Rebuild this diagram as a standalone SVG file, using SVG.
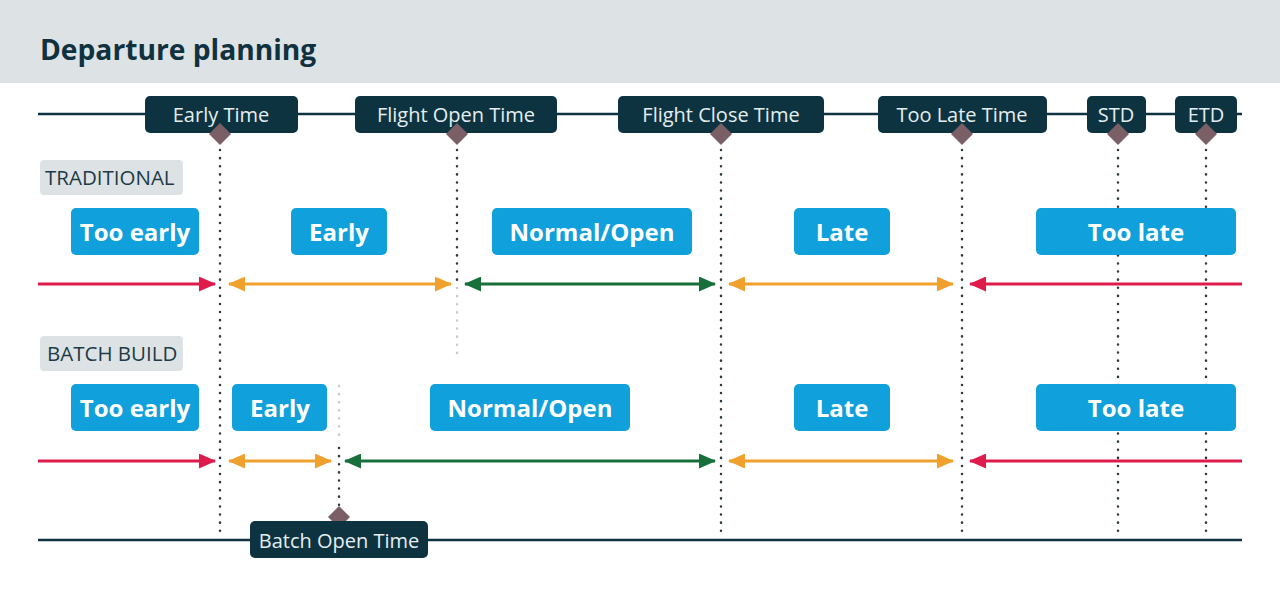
<svg xmlns="http://www.w3.org/2000/svg" width="1280" height="597" viewBox="0 0 1280 597">
<defs>
<style>
.title{font-family:"Open Sans","Liberation Sans",sans-serif;font-weight:700;font-size:28.2px;fill:#0f3140}
.tbox{fill:#0e3340}
.ttxt{font-family:"Open Sans","Liberation Sans",sans-serif;font-size:20px;fill:#e4eef0;text-anchor:middle}
.dia{fill:#7a5f66}
.tag{fill:#dde3e4}
.tagtxt{font-family:"Open Sans","Liberation Sans",sans-serif;font-size:20.5px;fill:#1d3a46}
.bbox{fill:#10a0dc}
.btxt{font-family:"Open Sans","Liberation Sans",sans-serif;font-weight:700;font-size:24px;fill:#ffffff;text-anchor:middle}
.axis{stroke:#0e3340;stroke-width:2.5;fill:none}
.dot{stroke:#2a3a44;stroke-width:2.5;stroke-dasharray:0.1 8;stroke-linecap:round;fill:none}
.dotl{stroke:#c4cbcf;stroke-width:2.5;stroke-dasharray:0.1 8;stroke-linecap:round;fill:none}
.red{stroke:#df1b4c;stroke-width:3;fill:none}
.org{stroke:#f0a02c;stroke-width:3;fill:none}
.grn{stroke:#17703a;stroke-width:3;fill:none}
</style>
<marker id="mr" viewBox="0 0 17 15" refX="16" refY="7.5" markerWidth="17" markerHeight="15" orient="auto-start-reverse" markerUnits="userSpaceOnUse"><path d="M0,0 L17,7.5 L0,15 z" fill="#df1b4c"/></marker>
<marker id="mo" viewBox="0 0 17 15" refX="16" refY="7.5" markerWidth="17" markerHeight="15" orient="auto-start-reverse" markerUnits="userSpaceOnUse"><path d="M0,0 L17,7.5 L0,15 z" fill="#f0a02c"/></marker>
<marker id="mg" viewBox="0 0 17 15" refX="16" refY="7.5" markerWidth="17" markerHeight="15" orient="auto-start-reverse" markerUnits="userSpaceOnUse"><path d="M0,0 L17,7.5 L0,15 z" fill="#17703a"/></marker>
</defs>
<rect x="0" y="0" width="1280" height="597" fill="#ffffff"/>
<rect x="0" y="0" width="1280" height="83" fill="#dde3e4"/>
<text class="title" x="40" y="60">Departure planning</text>

<g id="connectors">
<line class="axis" x1="38" y1="114" x2="1242" y2="114"/>
<line class="axis" x1="38" y1="540" x2="1242" y2="540"/>
<line class="dot" x1="220" y1="150" x2="220" y2="538"/>
<line class="dot" x1="457" y1="150" x2="457" y2="280"/>
<line class="dotl" x1="457" y1="288" x2="457" y2="356"/>
<line class="dot" x1="721" y1="150" x2="721" y2="538"/>
<line class="dot" x1="962" y1="150" x2="962" y2="538"/>
<line class="dot" x1="1118" y1="150" x2="1118" y2="538"/>
<line class="dot" x1="1206" y1="150" x2="1206" y2="538"/>
<line class="dotl" x1="339" y1="386" x2="339" y2="440"/>
<line class="dot" x1="339" y1="448" x2="339" y2="506"/>
<line class="red" x1="38" y1="284" x2="215" y2="284" marker-end="url(#mr)"/>
<line class="org" x1="229" y1="284" x2="451" y2="284" marker-start="url(#mo)" marker-end="url(#mo)"/>
<line class="grn" x1="465" y1="284" x2="715" y2="284" marker-start="url(#mg)" marker-end="url(#mg)"/>
<line class="org" x1="729" y1="284" x2="953" y2="284" marker-start="url(#mo)" marker-end="url(#mo)"/>
<line class="red" x1="1242" y1="284" x2="970" y2="284" marker-end="url(#mr)"/>
<line class="red" x1="38" y1="461" x2="215" y2="461" marker-end="url(#mr)"/>
<line class="org" x1="229" y1="461" x2="331" y2="461" marker-start="url(#mo)" marker-end="url(#mo)"/>
<line class="grn" x1="345" y1="461" x2="715" y2="461" marker-start="url(#mg)" marker-end="url(#mg)"/>
<line class="org" x1="729" y1="461" x2="953" y2="461" marker-start="url(#mo)" marker-end="url(#mo)"/>
<line class="red" x1="1242" y1="461" x2="970" y2="461" marker-end="url(#mr)"/>
</g>

<g id="early-time"><rect class="tbox" x="145" y="96" width="153" height="37" rx="5"/><text class="ttxt" x="221" y="122">Early Time</text><path class="dia" d="M220,123 l11,11 l-11,11 l-11,-11 z"/></g>
<g id="flight-open-time"><rect class="tbox" x="355" y="96" width="202" height="37" rx="5"/><text class="ttxt" x="456" y="122">Flight Open Time</text><path class="dia" d="M457,123 l11,11 l-11,11 l-11,-11 z"/></g>
<g id="flight-close-time"><rect class="tbox" x="618" y="96" width="206" height="37" rx="5"/><text class="ttxt" x="721" y="122">Flight Close Time</text><path class="dia" d="M721,123 l11,11 l-11,11 l-11,-11 z"/></g>
<g id="too-late-time"><rect class="tbox" x="878" y="96" width="169" height="37" rx="5"/><text class="ttxt" x="962" y="122">Too Late Time</text><path class="dia" d="M962,123 l11,11 l-11,11 l-11,-11 z"/></g>
<g id="std"><rect class="tbox" x="1087" y="96" width="59" height="37" rx="5"/><text class="ttxt" x="1116" y="122">STD</text><path class="dia" d="M1118,123 l11,11 l-11,11 l-11,-11 z"/></g>
<g id="etd"><rect class="tbox" x="1175" y="96" width="62" height="37" rx="5"/><text class="ttxt" x="1206" y="122">ETD</text><path class="dia" d="M1206,123 l11,11 l-11,11 l-11,-11 z"/></g>
<g id="batch-open-time"><path class="dia" d="M339,506 l11,11 l-11,11 l-11,-11 z"/><rect class="tbox" x="250" y="521" width="178" height="37" rx="5"/><text class="ttxt" x="339" y="548">Batch Open Time</text></g>

<g id="traditional"><rect class="tag" x="40" y="160" width="143" height="35" rx="4"/><text class="tagtxt" x="45" y="185">TRADITIONAL</text></g>
<g id="batch-build"><rect class="tag" x="40" y="336" width="143" height="35" rx="4"/><text class="tagtxt" x="47" y="361">BATCH BUILD</text></g>

<g id="t-too-early"><rect class="bbox" x="71" y="208" width="128" height="47" rx="5"/><text class="btxt" x="135" y="241">Too early</text></g>
<g id="t-early"><rect class="bbox" x="291" y="208" width="96" height="47" rx="5"/><text class="btxt" x="339" y="241">Early</text></g>
<g id="t-normal"><rect class="bbox" x="492" y="208" width="200" height="47" rx="5"/><text class="btxt" x="592" y="241">Normal/Open</text></g>
<g id="t-late"><rect class="bbox" x="794" y="208" width="96" height="47" rx="5"/><text class="btxt" x="842" y="241">Late</text></g>
<g id="t-too-late"><rect class="bbox" x="1036" y="208" width="200" height="47" rx="5"/><text class="btxt" x="1136" y="241">Too late</text></g>

<g id="b-too-early"><rect class="bbox" x="71" y="384" width="128" height="47" rx="5"/><text class="btxt" x="135" y="417">Too early</text></g>
<g id="b-early"><rect class="bbox" x="232" y="384" width="95" height="47" rx="5"/><text class="btxt" x="280" y="417">Early</text></g>
<g id="b-normal"><rect class="bbox" x="430" y="384" width="200" height="47" rx="5"/><text class="btxt" x="530" y="417">Normal/Open</text></g>
<g id="b-late"><rect class="bbox" x="794" y="384" width="96" height="47" rx="5"/><text class="btxt" x="842" y="417">Late</text></g>
<g id="b-too-late"><rect class="bbox" x="1036" y="384" width="200" height="47" rx="5"/><text class="btxt" x="1136" y="417">Too late</text></g>
</svg>
